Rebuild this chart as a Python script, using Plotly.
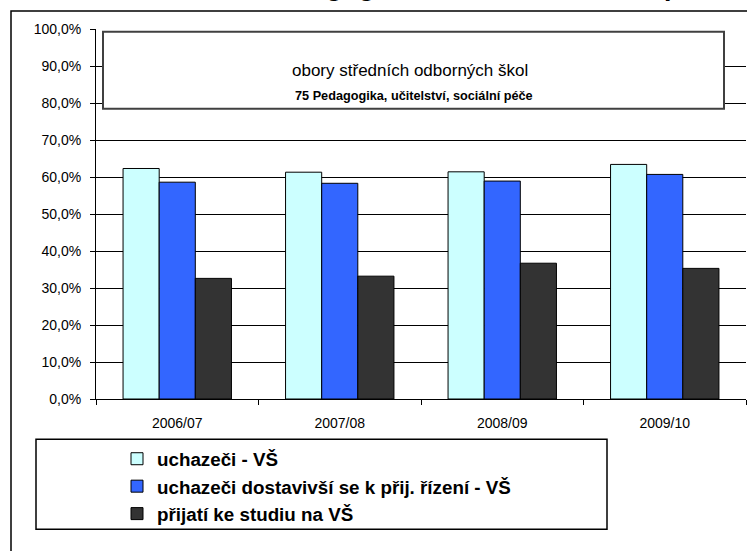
import plotly.graph_objects as go

# ---- data ----
years = ["2006/07", "2007/08", "2008/09", "2009/10"]
series_names = ["uchazeči - VŠ",
                "uchazeči dostavivší se k přij. řízení - VŠ",
                "přijatí ke studiu na VŠ"]
uchazeci = [62.3, 61.3, 61.4, 63.4]
dostavivsi = [58.6, 58.3, 58.9, 60.7]
prijati = [32.6, 33.2, 36.7, 35.3]
colors = ["#CCFFFF", "#3366FF", "#333333"]

title_text = "75 Pedagogika, učitelství, sociální péče"
box_line1 = "obory středních odborných škol"
box_line2 = "75 Pedagogika, učitelství, sociální péče"

# ---- layout geometry (pixels) ----
W, H = 747, 551
L, R, T, B = 96, 1, 29, 152
PW = W - L - R
PH = H - T - B


def px(x):
    return (x - L) / PW


def py(y):
    return (H - B - y) / PH


FONT = "Liberation Sans, Arial, sans-serif"

fig = go.Figure()
for i, (name, vals, col) in enumerate(zip(series_names, [uchazeci, dostavivsi, prijati], colors)):
    fig.add_trace(go.Bar(
        x=years, y=vals, name=name, legendgroup="g%d" % i,
        marker=dict(color=col, line=dict(color="#000000", width=1)),
    ))

fig.update_layout(
    width=W, height=H,
    margin=dict(l=L, r=R, t=T, b=B, pad=0),
    paper_bgcolor="white", plot_bgcolor="white",
    barmode="group", bargap=0.333, bargroupgap=0,
    separators=", ",
    font=dict(family=FONT, color="#000000", size=13),
    showlegend=True,
    legend=dict(
        x=px(117), y=py(440), xanchor="left", yanchor="top",
        bgcolor="rgba(0,0,0,0)", borderwidth=0,
        font=dict(family=FONT, size=18.8, color="#000000", weight="bold"),
        traceorder="normal", tracegroupgap=2,
    ),
    xaxis=dict(
        showline=True, linecolor="#000000", linewidth=1,
        ticks="outside", ticklen=5, tickcolor="#000000", tickson="boundaries",
        tickfont=dict(family=FONT, size=14),
        ticklabelstandoff=11,
        showgrid=False, zeroline=False,
    ),
    yaxis=dict(
        range=[0, 100], dtick=10, tick0=0,
        tickformat=".1f", ticksuffix="%",
        showline=True, linecolor="#000000", linewidth=1,
        ticks="outside", ticklen=5, tickcolor="#000000",
        ticklabelstandoff=6,
        showgrid=True, gridcolor="#000000", gridwidth=1,
        zeroline=False,
        tickfont=dict(family=FONT, size=14),
    ),
)

# outer chart border
fig.add_shape(type="rect", xref="paper", yref="paper",
              x0=px(11), x1=px(770), y0=py(580), y1=py(11),
              line=dict(color="#000000", width=1.5), fillcolor="rgba(0,0,0,0)",
              layer="above")

# text box inside plot
fig.add_shape(type="rect", xref="paper", yref="paper",
              x0=px(103), x1=px(724), y0=py(108.7), y1=py(31.7),
              line=dict(color="#404040", width=2), fillcolor="white",
              layer="above")
fig.add_annotation(xref="paper", yref="paper", x=px(410), y=py(71),
                   text=box_line1, showarrow=False,
                   xanchor="center", yanchor="middle",
                   font=dict(family=FONT, size=17, color="#000000"))
fig.add_annotation(xref="paper", yref="paper", x=px(414), y=py(96),
                   text="<b>" + box_line2 + "</b>", showarrow=False,
                   xanchor="center", yanchor="middle",
                   font=dict(family=FONT, size=12.7, color="#000000"))

# legend box
fig.add_shape(type="rect", xref="paper", yref="paper",
              x0=px(36), x1=px(607), y0=py(529.3), y1=py(439.3),
              line=dict(color="#000000", width=1.5), fillcolor="rgba(0,0,0,0)",
              layer="above")

# chart title (mostly cut off at the top edge)
fig.add_annotation(xref="paper", yref="paper", x=px(475.5), y=py(4.5),
                   text="<b>" + title_text + "</b>", showarrow=False,
                   xanchor="center", yanchor="bottom",
                   font=dict(family=FONT, size=26.7, color="#000000"))

fig.write_html("out.html", config={"displayModeBar": False},
               post_script="document.body.style.margin='0';")
